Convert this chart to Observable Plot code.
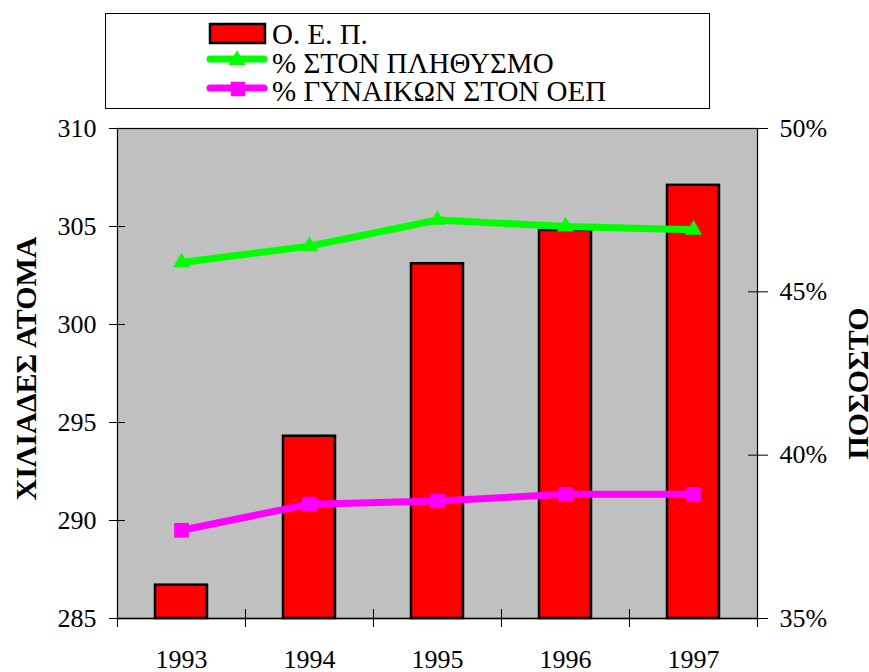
<!DOCTYPE html>
<html><head><meta charset="utf-8">
<script src="https://cdn.jsdelivr.net/npm/d3@7"></script>
<script src="https://cdn.jsdelivr.net/npm/@observablehq/plot@0.6"></script>
<style>
body{margin:0;background:#fff;font-family:"Liberation Serif",serif;}
#wrap{position:relative;width:869px;height:672px;overflow:hidden;}
#legend{position:absolute;left:105px;top:13px;width:605px;height:96px;border:1px solid #000;box-sizing:border-box;background:#fff;}
#legend svg{position:absolute;left:0;top:0;}
</style></head><body><div id="wrap"><div id="chart"></div><div id="legend"></div></div>
<script>
const years = [1993, 1994, 1995, 1996, 1997];
const oep = [286.7, 294.3, 303.1, 304.8, 307.1];           // thousands of persons (left axis)
const pctPopulation = [45.9, 46.4, 47.2, 47.0, 46.9];      // % (right axis)
const pctWomen = [37.7, 38.5, 38.6, 38.8, 38.8];           // % (right axis)
const leftTicks = [285, 290, 295, 300, 305, 310];
const rightTicks = [35, 40, 45, 50];
const seriesNames = ["Ο. Ε. Π.", "% ΣΤΟΝ ΠΛΗΘΥΣΜΟ", "% ΓΥΝΑΙΚΩΝ ΣΤΟΝ ΟΕΠ"];
const leftTitle = "ΧΙΛΙΑΔΕΣ ΑΤΟΜΑ";
const rightTitle = "ΠΟΣΟΣΤΟ";
const leftDomain = [285, 310];
const rightDomain = [35, 50];

const colors = {bar: "#ff0000", pop: "#00ff00", women: "#ff00ff", plotBg: "#c0c0c0"};
const FONT = "Liberation Serif, serif";

const toLeft = p => leftDomain[0] + (p - rightDomain[0]) * (leftDomain[1] - leftDomain[0]) / (rightDomain[1] - rightDomain[0]);
const fromLeft = v => rightDomain[0] + (v - leftDomain[0]) * (rightDomain[1] - rightDomain[0]) / (leftDomain[1] - leftDomain[0]);

const bars = years.map((y, i) => ({year: y, value: oep[i]}));
const pop = years.map((y, i) => ({year: y, v: toLeft(pctPopulation[i])}));
const women = years.map((y, i) => ({year: y, v: toLeft(pctWomen[i])}));

const W = 869, H = 672, mL = 117, mR = 112, mT = 128, mB = 54;
const step = (W - mL - mR) / years.length;

const chart = Plot.plot({
  width: W, height: H,
  marginTop: mT, marginBottom: mB, marginLeft: mL, marginRight: mR,
  style: {fontFamily: FONT, background: "transparent", overflow: "visible", color: "black"},
  x: {type: "band", domain: years, paddingInner: 0.594, paddingOuter: 0.297, axis: null},
  y: {domain: leftDomain, axis: null},
  marks: [
    Plot.frame({fill: colors.plotBg, stroke: "black", strokeWidth: 1.2}),
    Plot.barY(bars, {x: "year", y1: leftDomain[0], y2: "value", fill: colors.bar, stroke: "black", strokeWidth: 2.5}),
    Plot.line(pop, {x: "year", y: "v", stroke: colors.pop, strokeWidth: 7}),
    Plot.dot(pop, {x: "year", y: "v", symbol: "triangle", r: 6.3, fill: colors.pop, stroke: null}),
    Plot.line(women, {x: "year", y: "v", stroke: colors.women, strokeWidth: 7}),
    Plot.dot(women, {x: "year", y: "v", symbol: "square", r: 8.3, fill: colors.women, stroke: null}),
    Plot.ruleY([leftDomain[0]], {stroke: "black", strokeWidth: 1.5}),
    // x tick marks at band boundaries, crossing the axis
    Plot.ruleX(years, {x: d => d, dx: -step / 2, y1: leftDomain[0], y2: leftDomain[0], insetTop: -9, insetBottom: -9, stroke: "black", strokeWidth: 1}),
    Plot.ruleX(years.slice(-1), {x: d => d, dx: step / 2, y1: leftDomain[0], y2: leftDomain[0], insetTop: -9, insetBottom: -9, stroke: "black", strokeWidth: 1}),
    // left axis
    Plot.axisY({anchor: "left", ticks: leftTicks, tickSize: 16, dx: 8, tickFormat: () => "", label: null}),
    Plot.axisY({anchor: "left", ticks: leftTicks, tickSize: 0, tickPadding: 21, fontSize: 26, label: null, tickFormat: d => String(d)}),
    // right axis (percent, mapped onto the left scale)
    Plot.axisY({anchor: "right", ticks: rightTicks.map(toLeft), tickSize: 20, dx: -10, tickFormat: () => "", label: null}),
    Plot.axisY({anchor: "right", ticks: rightTicks.map(toLeft), tickSize: 0, tickPadding: 22, fontSize: 26, label: null, tickFormat: v => Math.round(fromLeft(v)) + "%"}),
    // x labels
    Plot.axisX({ticks: years, tickSize: 0, tickPadding: 31, fontSize: 26, label: null, tickFormat: d => String(d)}),
    // axis titles
    Plot.text([leftTitle], {text: d => d, frameAnchor: "left", rotate: -90, dx: -82, dy: -5, fontSize: 30, fontWeight: "bold", lineAnchor: "bottom", textAnchor: "middle"}),
    Plot.text([rightTitle], {text: d => d, frameAnchor: "right", rotate: -90, dx: 110, dy: 10, fontSize: 30, fontWeight: "bold", lineAnchor: "bottom", textAnchor: "middle"})
  ]
});
document.getElementById("chart").appendChild(chart);

// Legend
const lg = d3.select("#legend").append("svg").attr("width", 605).attr("height", 96).style("font-family", FONT);
const rowsY = [30, 59, 87];
lg.append("rect").attr("x", 104).attr("y", 10).attr("width", 55).attr("height", 19)
  .attr("fill", colors.bar).attr("stroke", "black").attr("stroke-width", 2.5);
lg.append("line").attr("x1", 104).attr("x2", 158).attr("y1", 45).attr("y2", 45)
  .attr("stroke", colors.pop).attr("stroke-width", 7).attr("stroke-linecap", "round");
lg.append("path").attr("d", d3.symbol(d3.symbolTriangle, 125)()).attr("transform", "translate(131,46)").attr("fill", colors.pop);
lg.append("line").attr("x1", 104).attr("x2", 158).attr("y1", 74).attr("y2", 74)
  .attr("stroke", colors.women).attr("stroke-width", 7).attr("stroke-linecap", "round");
lg.append("path").attr("d", d3.symbol(d3.symbolSquare, 210)()).attr("transform", "translate(132,75)").attr("fill", colors.women);
seriesNames.forEach((n, i) => {
  lg.append("text").attr("x", 166).attr("y", rowsY[i]).attr("font-size", 29).attr("fill", "black").text(n);
});
</script>
</body></html>
